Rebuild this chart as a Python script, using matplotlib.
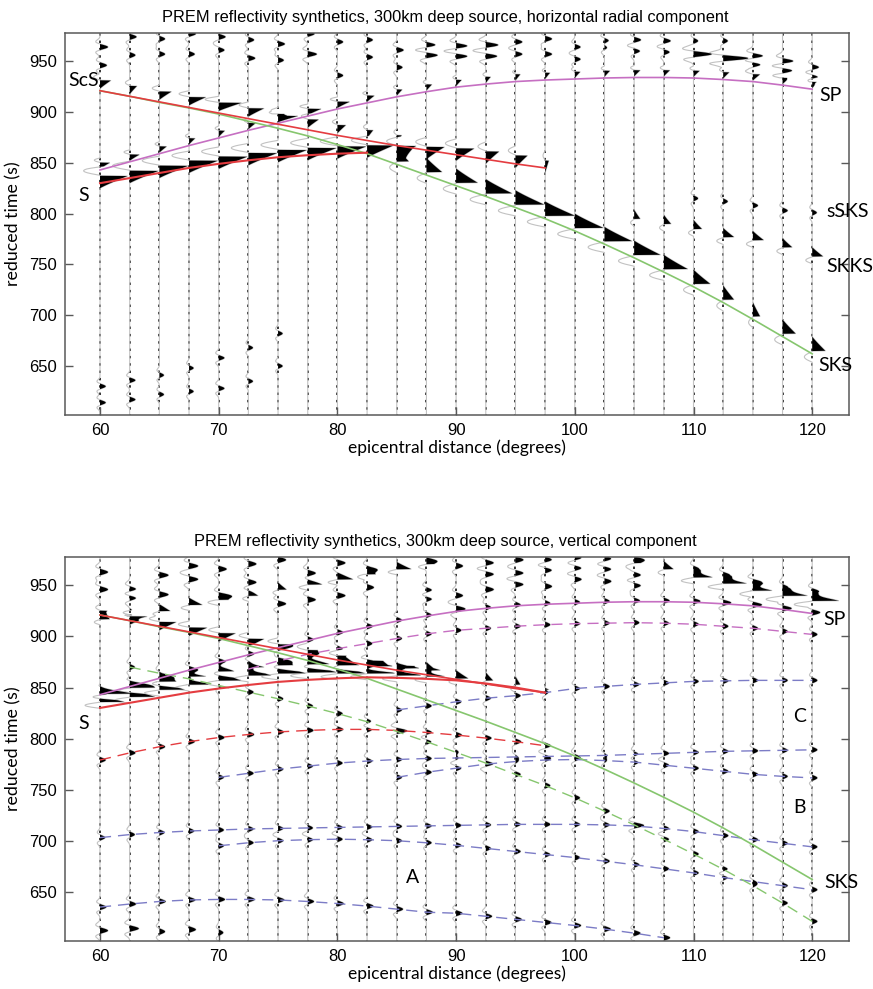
import numpy as np
import matplotlib.pyplot as plt

plt.rcParams['font.family'] = ['Liberation Sans Narrow', 'Liberation Sans', 'DejaVu Sans']

# trace distances (degrees)
DIST = [60.0, 62.5, 65.0, 67.5, 70.0, 72.5, 75.0, 77.5, 80.0, 82.5, 85.0, 87.5, 90.0,
        92.5, 95.0, 97.5, 100.0, 102.5, 105.0, 107.5, 110.0, 112.5, 115.0, 117.5, 120.0]

# travel-time curves, reduced time (s) at DIST[i0:]
S_TIME = [830, 835, 840, 845, 849, 852.5, 855.5, 857.5, 859, 860, 859.5, 858.5, 857, 854, 850, 845]
SCS_TIME = [921, 915.5, 910, 904.5, 899, 893.5, 888, 882.5, 877, 872, 867, 862.5, 858, 853.5, 849, 845]
SKS_TIME = [921, 915.5, 909.5, 904, 898, 891, 884, 876.5, 868, 859, 848.5, 838, 827.5, 817, 806,
            795, 783, 770, 756.5, 742.5, 728, 712.5, 696, 679, 662]
SP_TIME = [843, 851, 859, 867, 874.5, 882, 889, 896, 903, 909, 915, 920, 924.5, 927.5, 930,
           931.5, 932.5, 933.5, 934, 934, 933.5, 932, 930, 926.5, 922.5]
# dashed curves of the vertical component
SSP_TIME = [868, 876, 882.5, 888, 893, 898, 902.5, 906, 908, 910, 911.5, 912.5, 913, 913.5,
            913, 912, 910, 908, 905, 902]                                   # from 72.5
SS_TIME = [779, 786, 792, 797, 801, 804, 806.5, 808, 809, 809, 808, 806, 803.5, 800.5, 797, 793]  # from 60
SSKS_TIME = [870, 864, 858.5, 852, 845.5, 839, 832, 824.5, 816.5, 807, 797, 786.5, 776, 765,
             754, 742, 729, 715.5, 701.5, 687, 672, 656, 639, 621]           # from 62.5
BLUE1_TIME = [828, 832, 836, 839.5, 842, 845, 849, 851, 853, 854.5, 856, 856.5, 857, 857, 857]  # from 85
BLUE2_TIME = [762, 766, 770, 773, 776, 778, 779.5, 780.5, 781, 781.5, 782, 782.5, 783, 783.5,
              784.5, 785.5, 786.5, 787.5, 788, 788.5, 789]                   # from 70
BLUE3_TIME = [762, 767, 771, 775, 777.5, 779, 779.5, 778.5, 777, 774, 771, 768, 765, 763, 761.5]  # from 85
BLUE4_TIME = [703, 706, 708, 709.5, 710.5, 711.5, 712, 712.5, 713, 713.5, 714, 714.5, 715, 715.5,
              716, 716, 716, 715.5, 714.5, 712, 709, 705, 701, 697.5, 694]   # from 60
BLUE5_TIME = [695, 698, 700, 701, 701.5, 701, 700, 698, 695.5, 692.5, 689.5, 686.5, 683.5, 680,
              676.5, 672.5, 668.5, 664, 660, 656, 652]                      # from 70
BLUE6_TIME = [635, 638, 640.5, 642, 642.5, 642.5, 642, 640.5, 638.5, 636, 633, 630, 629, 626,
              623, 620, 617, 613.5, 609.5, 605]                             # from 60

# pulse amplitudes (degrees of trace deflection)
TOP_S_AMP = [2.3, 2.4, 2.4, 2.4, 2.4, 2.4, 2.4, 2.4, 2.4, 2.2, 1.6, 1.5, 1.5, 1.1, 1.0, 0.3]
TOP_SCS_AMP = [0.9, 0.6, 1.0, 1.4, 1.9, 1.3, 1.0, 0.9, 0.7, 0.5, 0.4]
TOP_SKS_AMP = [1.0, 1.3, 1.8, 2.2, 2.4, 2.5, 2.4, 2.3, 2.2, 2.0, 1.4, 0.9, 0.6, 1.1, 1.1]  # from 85
TOP_SP_AMP = [0.8, 0.8, 0.6, 0.5, 0.5, 0.6, 0.9, 1.1, 1.0, 0.6, 0.45, 0.45, 0.45, 0.4, 0.4,
              0.4, 0.45, 0.45, 0.5, 0.5, 0.5, 0.5, 0.6, 0.6, 0.6]
TOP_SKKS_TIME = [795, 790, 785, 777, 774, 767, 758]   # from 105
TOP_SKKS_AMP = [0.5, 0.6, 0.7, 0.9, 0.9, 0.8, 0.9]
TOP_SSKS_TIME = [815, 812, 808, 803, 801]             # from 110
TOP_SSKS_AMP = [0.4, 0.4, 0.45, 0.45, 0.4]
TOP_UP_A_TIME = [964, 974, 972, 977, 974, 971, 967, 977, 969, 971, 961, 966, 965, 966, 969, 972,
                 964, 970, 971, 970, 957, 953, 955, 950, 944]
TOP_UP_A_AMP = [0.7, 0.6, 0.5, 0.6, 0.6, 0.5, 0.6, 0.6, 0.5, 0.5, 0.6, 0.8, 1.0, 1.1, 0.6, 0.6,
                0.5, 0.6, 0.6, 0.6, 1.6, 2.2, 1.0, 1.0, 0.6]
TOP_UP_B_TIME = [946, 956, 957, 957, 961, 953, 951, 957, 936, 954, 944, 956, 955, 955, 957, 957,
                 952, 964, 960, 959, 970, 970, 947, 941, 934.5]
TOP_UP_B_AMP = [0.6, 0.5, 0.5, 0.5, 0.5, 0.6, 0.5, 0.8, 0.5, 0.5, 0.5, 1.0, 1.0, 1.0, 0.6, 0.6,
                0.5, 0.5, 0.5, 0.5, 0.4, 0.4, 0.8, 0.9, 0.5]
TOP_LOW_A_TIME = [630, 636, 641, 648, 658, 668, 682]
TOP_LOW_B_TIME = [614, 617, 622, 625, 628, 635, 650]
TOP_LOW_AMP = [0.5, 0.5, 0.4, 0.4, 0.5, 0.4, 0.4]

BOT_SV_TIME = [836, 841, 848, 853, 857, 862, 864, 865, 864, 864, 862, 861, 859, 857, 853, 848]
BOT_SV_AMP = [2.1, 2.1, 2.1, 1.9, 2.1, 2.1, 2.3, 2.4, 2.3, 2.3, 2.0, 1.6, 1.0, 0.6, 0.4, 0.3]
BOT_SV2_TIME = [844, 850, 856, 861, 866, 870, 872, 873, 872, 871, 869, 867]
BOT_SV2_AMP = [2.2, 1.9, 1.7, 1.5, 1.3, 1.1, 1.4, 1.8, 1.8, 1.6, 1.2, 0.8]
BOT_SCS_AMP = [0.6, 1.7, 1.4, 1.5, 1.4, 1.3, 1.0, 1.0, 0.9, 0.8, 0.6]
BOT_SP_AMP = [0.5, 0.5, 0.6, 0.6, 0.6, 0.5, 0.5, 0.5, 0.5, 0.5, 0.45, 0.45, 0.45, 0.45, 0.45,
              0.45, 0.45, 0.45, 0.5, 0.5, 0.6, 0.7, 0.8, 0.8, 0.7]
BOT_UP1_TIME = [917, 921, 925, 931, 936, 940, 946, 951, 956, 961, 966, 971]
BOT_UP1_AMP = [0.8, 0.7, 0.9, 1.1, 1.0, 0.8, 0.7, 1.2, 1.3, 1.0, 1.2, 0.6]
BOT_UPL_A_TIME = [963, 946, 960, 956, 940, 953, 975, 962, 972, 966]
BOT_UPL_B_TIME = [946, 938, 941, 969, 966, 971, 932, 936, 940, 948]
BOT_UPL_AMP = [0.7, 0.7, 0.8, 0.8, 0.7, 0.7, 0.7, 0.7, 0.7, 0.6]
BOT_UPM_A_TIME = [974, 969, 972, 975, 975, 977, 976, 975]   # from 87.5
BOT_UPM_B_TIME = [945, 940, 961, 962, 965, 967, 966, 960]
BOT_UPM_C_TIME = [937, 928, 946, 951, 949, 956, 954, 950]
BOT_UPM_AMP = [0.6, 0.6, 0.7, 0.7, 0.6, 0.6, 0.6, 0.6]
BOT_UPR_TIME = [972, 966, 958, 952, 945, 940, 935]          # from 105
BOT_UPR_AMP = [0.5, 0.8, 1.7, 2.1, 1.8, 2.2, 2.3]
BOT_UPR2_TIME = [966, 960, 953, 948, 944]                   # from 110
BOT_UPR2_AMP = [0.5, 0.6, 0.8, 0.5, 0.6]
BOT_LOW_TIME = [612, 614, 611, 613, 610]
BOT_LOW_AMP = [0.7, 0.8, 0.5, 0.6, 0.4]

T = np.arange(600.0, 980.0, 0.25)


def wedge(t0, amp, width, flat_top):
    s = (T - t0) / width
    if not flat_top:
        s = -s
    pos = np.where((s > -1) & (s <= 0), (1 + s) ** 1.1, 0.0)
    neg = np.where((s > 0.06) & (s < 0.8), -0.6 * np.sin(np.pi * (s - 0.06) / 0.74), 0.0)
    return amp * (pos + neg)


def blip(t0, amp, width=2.8):
    s = (T - t0) / width
    return amp * (np.exp(-s ** 2) - 0.55 * np.exp(-(s - 1.8) ** 2) - 0.55 * np.exp(-(s + 1.8) ** 2))


def build(phases):
    w = np.zeros((len(DIST), T.size))
    for i0, times, amps, kind, shift, width in phases:
        amps = amps if np.ndim(amps) else [amps] * len(times)
        for k, (tt, aa) in enumerate(zip(times, amps)):
            i = i0 + k
            if kind == 'top':
                w[i] += wedge(tt + shift, aa, width, True)
            elif kind == 'bottom':
                w[i] += wedge(tt + shift, aa, width, False)
            else:
                w[i] += blip(tt + shift, aa, width)
    return w


def idx(d):
    return DIST.index(d)


top_phases = [
    (0, S_TIME, TOP_S_AMP, 'top', 7, 12),
    (0, SCS_TIME[:11], TOP_SCS_AMP, 'top', 10, 8),
    (idx(85), SKS_TIME[idx(85):], TOP_SKS_AMP, 'bottom', 3, 14),
    (0, SP_TIME, TOP_SP_AMP, 'top', 7, 6),
    (idx(105), TOP_SKKS_TIME, TOP_SKKS_AMP, 'bottom', 0, 9),
    (idx(110), TOP_SSKS_TIME, TOP_SSKS_AMP, 'blip', 0, 2.8),
    (0, TOP_UP_A_TIME, TOP_UP_A_AMP, 'blip', 0, 2.8),
    (0, TOP_UP_B_TIME, TOP_UP_B_AMP, 'blip', 0, 2.8),
    (0, TOP_LOW_A_TIME, TOP_LOW_AMP, 'blip', 0, 2.6),
    (0, TOP_LOW_B_TIME, TOP_LOW_AMP, 'blip', 0, 2.6),
]

bot_phases = [
    (0, BOT_SV_TIME, BOT_SV_AMP, 'bottom', 0, 8),
    (0, BOT_SV2_TIME, BOT_SV2_AMP, 'bottom', 0, 8),
    (0, SCS_TIME[:11], BOT_SCS_AMP, 'top', 4, 8),
    (0, SP_TIME, BOT_SP_AMP, 'blip', 1, 2.8),
    (idx(72.5), SSP_TIME, 0.45, 'blip', 0, 2.8),
    (0, SS_TIME, 0.5, 'blip', 0, 2.8),
    (idx(62.5), SSKS_TIME, 0.45, 'blip', 0, 2.8),
    (idx(85), BLUE1_TIME, 0.45, 'blip', 0, 2.8),
    (idx(70), BLUE2_TIME, 0.45, 'blip', 0, 2.8),
    (idx(85), BLUE3_TIME, 0.45, 'blip', 0, 2.8),
    (0, BLUE4_TIME, 0.45, 'blip', 0, 2.8),
    (idx(70), BLUE5_TIME, 0.45, 'blip', 0, 2.8),
    (0, BLUE6_TIME, 0.55, 'blip', 0, 2.8),
    (0, BOT_UP1_TIME, BOT_UP1_AMP, 'bottom', 0, 7),
    (0, BOT_UPL_A_TIME, BOT_UPL_AMP, 'blip', 0, 3.0),
    (0, BOT_UPL_B_TIME, BOT_UPL_AMP, 'blip', 0, 3.0),
    (idx(87.5), BOT_UPM_A_TIME, BOT_UPM_AMP, 'blip', 0, 3.0),
    (idx(87.5), BOT_UPM_B_TIME, BOT_UPM_AMP, 'blip', 0, 3.0),
    (idx(87.5), BOT_UPM_C_TIME, BOT_UPM_AMP, 'blip', 0, 3.0),
    (idx(105), BOT_UPR_TIME, BOT_UPR_AMP, 'bottom', 0, 8),
    (idx(110), BOT_UPR2_TIME, BOT_UPR2_AMP, 'blip', 0, 3.0),
    (0, BOT_LOW_TIME, BOT_LOW_AMP, 'blip', 0, 3.0),
]

RED = '#e43c40'
GREEN = '#86c66e'
MAGENTA = '#c66fc2'
BLUE = '#7c7cc6'
LABEL_FONT = ['Lato', 'DejaVu Sans']


def draw_traces(ax, w):
    for i, d in enumerate(DIST):
        x = d + w[i]
        ax.fill_betweenx(T, d, x, where=w[i] > 0, interpolate=True, color='black', lw=0, zorder=2)
        ax.plot([d, d], [T[0], T[-1]], color='black', lw=1.1, ls=(0, (1.6, 3.2)), zorder=1)
        ax.plot(x, T, color='0.76', lw=0.8, zorder=1.5)


def curve(ax, i0, times, color, dashed=False, lw=1.2):
    ds = DIST[i0:i0 + len(times)]
    ax.plot(ds, times, color=color, lw=lw, ls=(0, (8, 5)) if dashed else '-', zorder=4)


def style(ax, title):
    ax.set_xlim(57.05, 123.1)
    ax.set_ylim(601.8, 977.8)
    ax.set_xticks([60, 70, 80, 90, 100, 110, 120])
    ax.set_yticks([650, 700, 750, 800, 850, 900, 950])
    ax.tick_params(direction='in', length=6, width=1, color='0.35', labelsize=12,
                   right=True, top=False, pad=6)
    for sp in ax.spines.values():
        sp.set_color('0.35')
        sp.set_linewidth(1.1)
    # the printed title sits a little left of the box centre
    ax.set_title(title, fontsize=11.8, pad=8, x=0.485)
    ax.set_xlabel('epicentral distance (degrees)', fontsize=12.5, family=LABEL_FONT, labelpad=1)
    ax.set_ylabel('reduced time (s)', fontsize=12.8, family=LABEL_FONT, labelpad=5)


def label(ax, d, t, s, ha='center'):
    ax.text(d, t, s, fontsize=14, family=LABEL_FONT, ha=ha, va='center', zorder=5)


fig = plt.figure(figsize=(8.73, 9.89), dpi=100)
ax1 = fig.add_axes([65 / 873, 1 - 415 / 989, 784 / 873, 382 / 989])
ax2 = fig.add_axes([65 / 873, 1 - 941 / 989, 784 / 873, 384 / 989])

# horizontal radial component
draw_traces(ax1, build(top_phases))
curve(ax1, 0, SP_TIME, MAGENTA)
curve(ax1, 0, SKS_TIME, GREEN)
curve(ax1, 0, SCS_TIME, RED)
curve(ax1, 0, S_TIME[:10], RED, lw=1.5)
style(ax1, 'PREM reflectivity synthetics, 300km deep source, horizontal radial component')
label(ax1, 58.6, 931, 'ScS')
label(ax1, 58.6, 818, 'S')
label(ax1, 120.6, 916, 'SP', ha='left')
label(ax1, 121.2, 802, 'sSKS', ha='left')
label(ax1, 121.2, 748, 'SKKS', ha='left')
label(ax1, 120.5, 651, 'SKS', ha='left')

# vertical component
draw_traces(ax2, build(bot_phases))
for i0, times in [(idx(85), BLUE1_TIME), (idx(70), BLUE2_TIME), (idx(85), BLUE3_TIME),
                  (0, BLUE4_TIME), (idx(70), BLUE5_TIME), (0, BLUE6_TIME)]:
    curve(ax2, i0, times, BLUE, dashed=True, lw=1.0)
curve(ax2, idx(72.5), SSP_TIME, MAGENTA, dashed=True, lw=1.0)
curve(ax2, 0, SS_TIME, RED, dashed=True, lw=1.0)
curve(ax2, idx(62.5), SSKS_TIME, GREEN, dashed=True, lw=1.0)
curve(ax2, 0, SP_TIME, MAGENTA)
curve(ax2, 0, SKS_TIME, GREEN)
curve(ax2, 0, SCS_TIME, RED)
curve(ax2, 0, S_TIME, RED, lw=1.5)
style(ax2, 'PREM reflectivity synthetics, 300km deep source, vertical component')
label(ax2, 58.6, 815, 'S')
label(ax2, 120.9, 917, 'SP', ha='left')
label(ax2, 121.0, 659, 'SKS', ha='left')
label(ax2, 118.9, 822, 'C')
label(ax2, 118.9, 733, 'B')
label(ax2, 86.3, 664, 'A')

fig.savefig('out.png', dpi=100)
